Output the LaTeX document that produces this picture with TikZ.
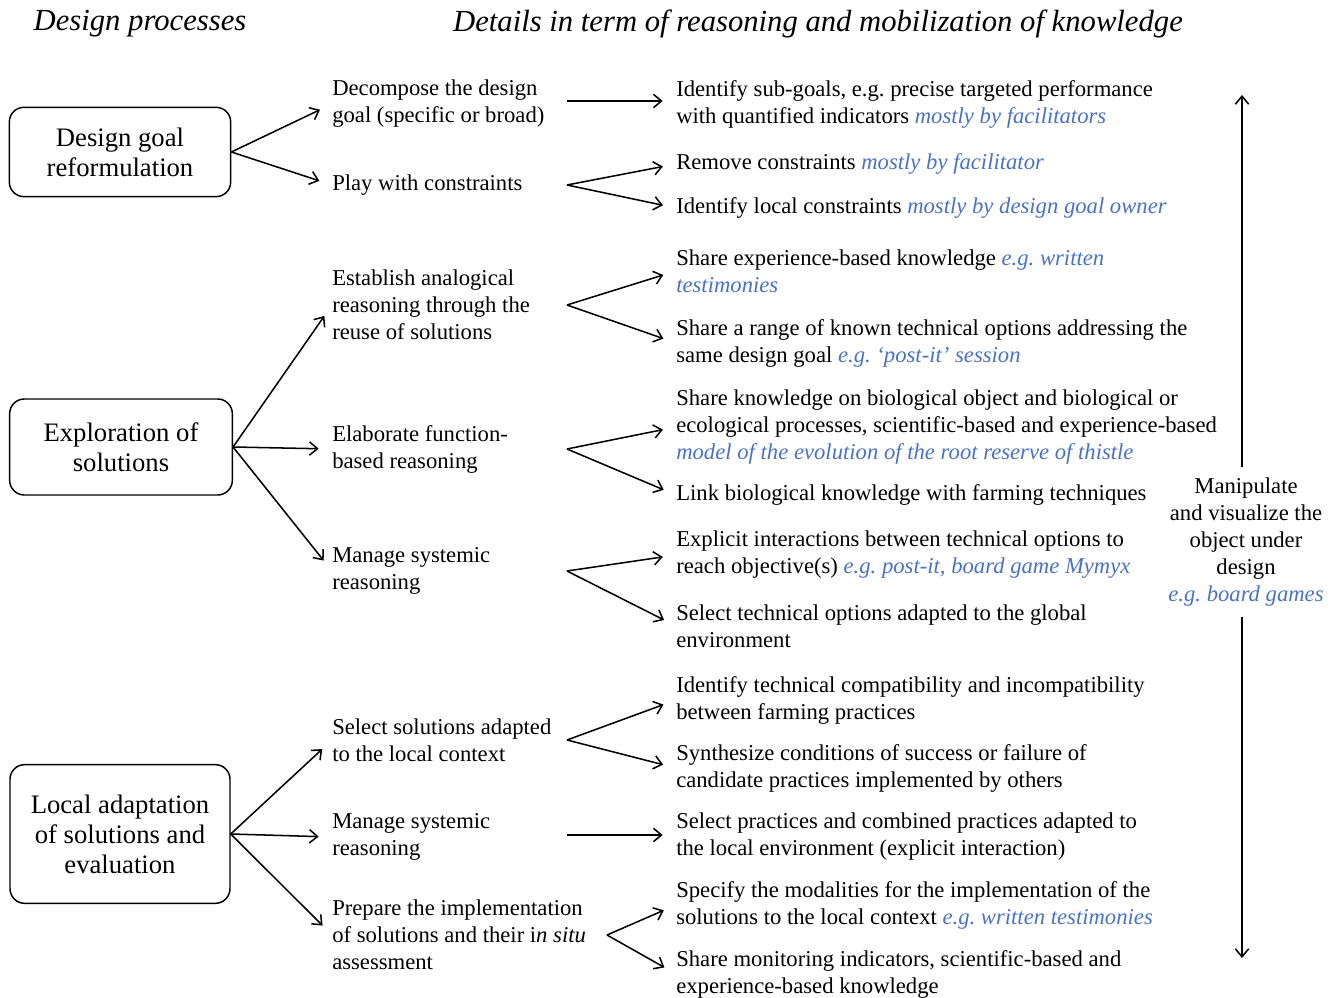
\documentclass[tikz,border=0pt]{standalone}
\usepackage{fontspec}
\setmainfont{Liberation Serif}
\usetikzlibrary{arrows.meta}
\definecolor{egblue}{HTML}{4A72C4}
\newcommand{\eg}[1]{\textcolor{egblue}{\itshape #1}}
\frenchspacing

\begin{document}
\begin{tikzpicture}
    [x=0.75pt,y=-0.75pt,
    proc/.style={draw,rounded corners=11pt,line width=1.1pt,align=center,
        font=\fontsize{20}{22.5}\selectfont},
    reason/.style={anchor=west,align=left,inner sep=0pt,
        font=\fontsize{17}{20.25}\selectfont},
    head/.style={inner sep=0pt,font=\fontsize{23}{27}\selectfont\itshape},
    branch/.style={-{Straight Barb[length=6pt,width=10pt]},line width=1.15pt,shorten >=10pt}]
    \useasboundingbox (0,0) rectangle (1336,998);
    %headings
    \node[head] (headproc) at (140,24) {Design processes};
    \node[head] (headdet) at (818,24) {Details in term of reasoning and mobilization of knowledge};
    %design processes
    \node[proc,minimum width=166pt,minimum height=67pt] (goal) at (120,152) {Design goal\\reformulation};
    \node[proc,minimum width=167pt,minimum height=72pt] (explore) at (121,447) {Exploration of\\solutions};
    \node[proc,minimum width=165pt,minimum height=104pt] (adapt) at (120,834) {Local adaptation\\of solutions and\\evaluation};
    %reasoning
    \node[reason] (decomp) at (332,104) {Decompose the design\\goal (specific or broad)};
    \node[reason] (play) at (332,185) {Play with constraints};
    \node[reason] (analog) at (332,305) {Establish analogical\\reasoning through the\\reuse of solutions};
    \node[reason] (funct) at (332,449) {Elaborate function-\\based reasoning};
    \node[reason] (syst) at (332,571) {Manage systemic\\reasoning};
    \node[reason] (local) at (332,740) {Select solutions adapted\\to the local context};
    \node[reason] (systb) at (332,837) {Manage systemic\\reasoning};
    \node[reason] (prep) at (332,935) {Prepare the implementation\\of solutions and their i\textit{n situ}\\assessment};
    %details
    \node[reason] (subgoal) at (676,104) {Identify sub-goals, e.g. precise targeted performance\\with quantified indicators \eg{mostly by facilitators}};
    \node[reason] (remove) at (676,164) {Remove constraints \eg{mostly by facilitator}};
    \node[reason] (localc) at (676,208) {Identify local constraints \eg{mostly by design goal owner}};
    \node[reason] (exper) at (676,271) {Share experience-based knowledge \eg{e.g. written}\\\eg{testimonies}};
    \node[reason] (range) at (676,343) {Share a range of known technical options addressing the\\same design goal \eg{e.g. `post-it' session}};
    \node[reason] (bio) at (676,427) {Share knowledge on biological object and biological or\\ecological processes, scientific-based and experience-based\\\eg{model of the evolution of the root reserve of thistle}};
    \node[reason] (link) at (676,495) {Link biological knowledge with farming techniques};
    \node[reason] (inter) at (676,555) {Explicit interactions between technical options to\\reach objective(s) \eg{e.g. post-it, board game Mymyx}};
    \node[reason] (glob) at (676,626) {Select technical options adapted to the global\\environment};
    \node[reason] (compat) at (676,700) {Identify technical compatibility and incompatibility\\between farming practices};
    \node[reason] (synth) at (676,768) {Synthesize conditions of success or failure of\\candidate practices implemented by others};
    \node[reason] (combin) at (676,837) {Select practices and combined practices adapted to\\the local environment (explicit interaction)};
    \node[reason] (modal) at (676,905) {Specify the modalities for the implementation of the\\solutions to the local context \eg{e.g. written testimonies}};
    \node[reason] (monit) at (676,974) {Share monitoring indicators, scientific-based and\\experience-based knowledge};
    %forks
    \coordinate (fdecomp) at (567,101);
    \coordinate (fplay) at (567,185);
    \coordinate (fanalog) at (567,305);
    \coordinate (ffunct) at (567,449);
    \coordinate (fsyst) at (567,571);
    \coordinate (flocal) at (567,740);
    \coordinate (fsystb) at (567,835);
    \coordinate (fprep) at (607,935);
    %arrows from processes
    \draw[branch] (goal.east) -- (decomp.west);
    \draw[branch] (goal.east) -- (play.west);
    \draw[branch] (explore.east) -- (analog.west);
    \draw[branch] (explore.east) -- (funct.west);
    \draw[branch] (explore.east) -- (syst.west);
    \draw[branch] (adapt.east) -- (local.west);
    \draw[branch] (adapt.east) -- (systb.west);
    \draw[branch] (adapt.east) -- (prep.west);
    %arrows to details
    \draw[branch] (fdecomp) -- (subgoal.west |- fdecomp);
    \draw[branch] (fplay) -- (remove.west);
    \draw[branch] (fplay) -- (localc.west);
    \draw[branch] (fanalog) -- (exper.west);
    \draw[branch] (fanalog) -- (range.west);
    \draw[branch] (ffunct) -- (bio.west);
    \draw[branch] (ffunct) -- (link.west);
    \draw[branch] (fsyst) -- (inter.west);
    \draw[branch] (fsyst) -- (glob.west);
    \draw[branch] (flocal) -- (compat.west);
    \draw[branch] (flocal) -- (synth.west);
    \draw[branch] (fsystb) -- (combin.west |- fsystb);
    \draw[branch] (fprep) -- (modal.west);
    \draw[branch] (fprep) -- (monit.west);
    %manipulate
    \node[reason,anchor=center,align=center,inner sep=8pt] (manip) at (1246,542)
        {Manipulate\\and visualize the\\object under\\design\\\eg{e.g. board games}};
    \coordinate (mtop) at (1242,95);
    \coordinate (mbot) at (1242,958);
    \draw[branch,shorten >=0pt] (manip.north -| mtop) -- (mtop);
    \draw[branch,shorten >=0pt] (manip.south -| mbot) -- (mbot);
\end{tikzpicture}
\end{document}
